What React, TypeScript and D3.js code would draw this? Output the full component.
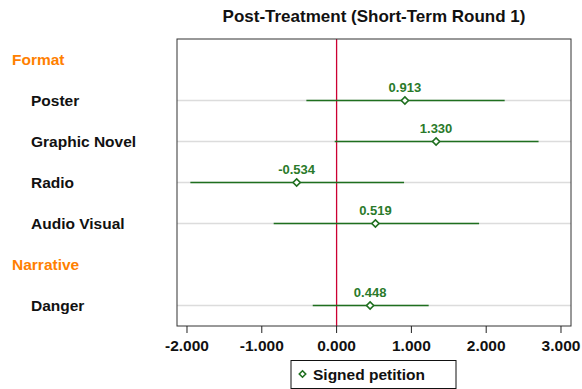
import React from "react";
import * as d3 from "d3";

const rows = ["Format", "Poster", "Graphic Novel", "Radio", "Audio Visual", "Narrative", "Danger"];
const headers = ["Format", "Narrative"];
const items = ["Poster", "Graphic Novel", "Radio", "Audio Visual", "Danger"];
const estimates = [0.913, 1.33, -0.534, 0.519, 0.448];
const lower = [-0.404, -0.025, -1.955, -0.841, -0.319];
const upper = [2.247, 2.7, 0.902, 1.905, 1.231];
const xTicks = [-2, -1, 0, 1, 2, 3];
const title = "Post-Treatment (Short-Term Round 1)";
const legendLabel = "Signed petition";

const W = 582, H = 389;
const left = 177, right = 571, top = 39, bottom = 326;
const FONT = "'Liberation Sans', Arial, sans-serif";
const GREEN_LINE = "#1f6f1f";
const GREEN_TEXT = "#2a7a2a";

const marker = (r: number) => `M0,${-r}L${r},0L0,${r}L${-r},0Z`;

export default function App() {
  const x = d3.scaleLinear().domain([-2.1336, 3.1337]).range([left, right]);
  const y = d3.scalePoint<string>().domain(rows).range([top, bottom]).padding(0.5);
  const f3 = d3.format(".3f");
  const fmt = (v: number) => f3(v).replace("\u2212", "-");
  const diamond = marker(3.6);

  return (
    <svg width={W} height={H} style={{ position: "absolute", left: 0, top: 0, fontFamily: FONT }}>
      <rect x={0} y={0} width={W} height={H} fill="#fff" />
      <text x={(left + right) / 2} y={22} textAnchor="middle" fontSize={17} fontWeight="bold" fill="#111">
        {title}
      </text>
      {items.map((c) => (
        <line key={"g" + c} x1={left} x2={right} y1={y(c)} y2={y(c)} stroke="#dcdcdc" strokeWidth={1.5} />
      ))}
      <line x1={x(0)} x2={x(0)} y1={top} y2={bottom} stroke="#cc0033" strokeWidth={1.3} />
      {items.map((c, i) => (
        <g key={"ci" + c}>
          <line x1={x(lower[i])} x2={x(upper[i])} y1={y(c)} y2={y(c)} stroke={GREEN_LINE} strokeWidth={1.6} />
          <path d={diamond} transform={`translate(${x(estimates[i])},${y(c)})`} fill="#fff" stroke={GREEN_LINE} strokeWidth={1.6} />
          <text x={x(estimates[i])} y={(y(c) as number) - 9} textAnchor="middle" fontSize={13} fontWeight="bold" fill={GREEN_TEXT}>
            {fmt(estimates[i])}
          </text>
        </g>
      ))}
      <rect x={left} y={top} width={right - left} height={bottom - top} fill="none" stroke="#333" strokeWidth={1} />
      {xTicks.map((t) => (
        <g key={"t" + t}>
          <line x1={x(t)} x2={x(t)} y1={bottom} y2={bottom + 7} stroke="#222" />
          <text x={x(t)} y={351} textAnchor="middle" fontSize={15.5} fontWeight="bold" fill="#111">
            {fmt(t)}
          </text>
        </g>
      ))}
      {rows.map((r) => {
        const isHeader = headers.includes(r);
        return (
          <text
            key={"l" + r}
            x={isHeader ? 12 : 31}
            y={(y(r) as number) + 5.5}
            fontSize={15.5}
            fontWeight="bold"
            fill={isHeader ? "#ff8000" : "#111"}
          >
            {r}
          </text>
        );
      })}
      <rect x={291} y={360.5} width={165} height={28} fill="#fff" stroke="#111" strokeWidth={1} />
      <path d={marker(3.2)} transform={`translate(302.5,374)`} fill="#fff" stroke={GREEN_LINE} strokeWidth={1.6} />
      <text x={313} y={379.5} fontSize={15.5} fontWeight="bold" fill="#111">
        {legendLabel}
      </text>
    </svg>
  );
}
